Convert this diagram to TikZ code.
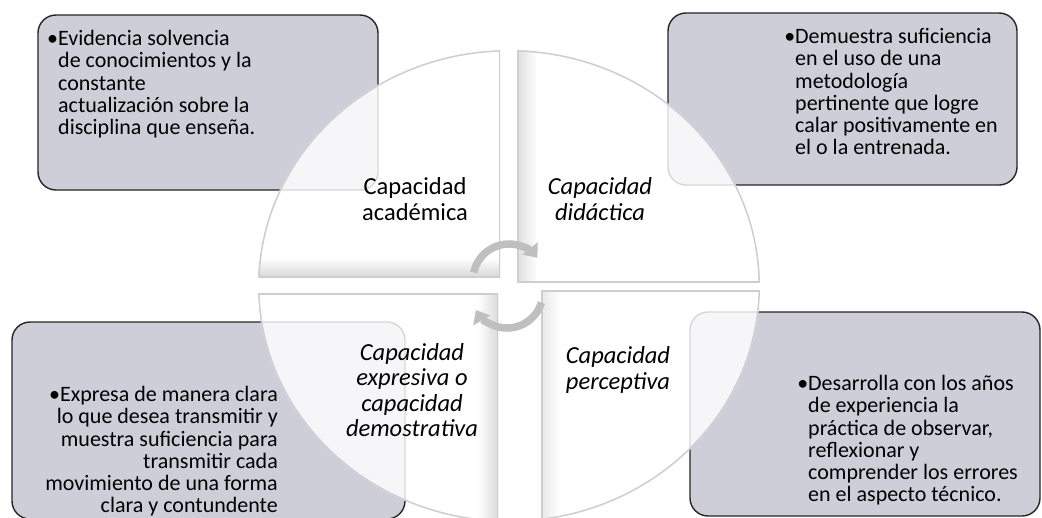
\documentclass[tikz,border=0pt]{standalone}
\usepackage{fontspec}
\setmainfont{Carlito}
\usetikzlibrary{arrows.meta,calc}
\definecolor{boxgray}{RGB}{206,206,217}
\definecolor{pieceline}{RGB}{205,205,210}
\tikzset{
	infobox/.style={draw=black!85, line width=1.4pt, rounded corners=18pt, fill=boxgray},
	infotext/.style={inner sep=0pt, font=\fontsize{22}{22.3}\selectfont},
	piecelabel/.style={inner sep=0pt, align=center, font=\fontsize{24.5}{25.5}\selectfont},
	cyclearrow/.style={line width=7.5pt, draw=black!25, -{Triangle[length=12pt,width=19pt]}}
}

\begin{document}
\begin{tikzpicture}[x=1pt,y=-1pt]
			%%%%% START %%%%%
			\useasboundingbox[fill=white] (0,0) rectangle (1042,517);
			
			% corner boxes
			\draw[infobox] (38,15) rectangle (378,190);
			\draw[infobox] (668,13) rectangle (1017,185);
			\draw[infobox] (12,322) rectangle (405,519);
			\draw[infobox] (690,312) rectangle (1040,516);
			
			\node[infotext, anchor=north west, align=left] (acadtext) at (58,30)
				{\llap{•}Evidencia solvencia\\de conocimientos y la\\constante\\actualización sobre la\\disciplina que enseña.};
			\node[infotext, anchor=north west, align=left] (didtext) at (795,28)
				{\llap{•}Demuestra suficiencia\\en el uso de una\\metodología\\pertinente que logre\\calar positivamente en\\el o la entrenada.};
			\node[infotext, anchor=north east, align=right] (exptext) at (278,386)
				{•Expresa de manera clara\\lo que desea transmitir y\\muestra suficiencia para\\transmitir cada\\movimiento de una forma\\clara y contundente};
			\node[infotext, anchor=north west, align=left] (perctext) at (808,375)
				{\llap{•}Desarrolla con los años\\de experiencia la\\práctica de observar,\\reflexionar y\\comprender los errores\\en el aspecto técnico.};
			
			% quarter pieces of the circle
			\begin{scope}
				\clip (509,286) ellipse [x radius=251, y radius=236];
				\clip (250,40) rectangle (500,277);
				\fill[white, fill opacity=0.82] (250,40) rectangle (500,277);
				\shade[top color=white, bottom color=black!22, fill opacity=0.7] (250,258) rectangle (500,277);
				\draw[line width=3pt, pieceline] (509,286) ellipse [x radius=251, y radius=236];
				\draw[line width=3pt, pieceline] (250,40) rectangle (500,277);
			\end{scope}
			\begin{scope}
				\clip (509,286) ellipse [x radius=251, y radius=236];
				\clip (517,40) rectangle (770,282);
				\fill[white, fill opacity=0.82] (517,40) rectangle (770,282);
				\shade[left color=black!18, right color=white, fill opacity=0.7] (517,40) rectangle (537,282);
				\draw[line width=3pt, pieceline] (509,286) ellipse [x radius=251, y radius=236];
				\draw[line width=3pt, pieceline] (517,40) rectangle (770,282);
			\end{scope}
			\begin{scope}
				\clip (509,286) ellipse [x radius=251, y radius=236];
				\clip (250,293) rectangle (498,530);
				\fill[white, fill opacity=0.82] (250,293) rectangle (498,530);
				\shade[left color=white, right color=black!20, fill opacity=0.7] (478,293) rectangle (498,530);
				\draw[line width=3pt, pieceline] (509,286) ellipse [x radius=251, y radius=236];
				\draw[line width=3pt, pieceline] (250,293) rectangle (498,530);
			\end{scope}
			\begin{scope}
				\clip (509,286) ellipse [x radius=251, y radius=236];
				\clip (541,290) rectangle (770,530);
				\fill[white, fill opacity=0.82] (541,290) rectangle (770,530);
				\shade[left color=black!15, right color=white, fill opacity=0.6] (541,290) rectangle (560,530);
				\draw[line width=3pt, pieceline] (509,286) ellipse [x radius=251, y radius=236];
				\draw[line width=3pt, pieceline] (541,290) rectangle (770,530);
			\end{scope}
			
			% labels of the pieces
			\node[piecelabel] (acad) at (415,199) {Capacidad\\académica};
			\node[piecelabel, font=\fontsize{24.5}{25.5}\selectfont\itshape] (did) at (600,199) {Capacidad\\didáctica};
			\node[piecelabel, font=\fontsize{24.5}{25.5}\selectfont\itshape] (exp) at (412,390) {Capacidad\\expresiva o\\capacidad\\demostrativa};
			\node[piecelabel, font=\fontsize{24.5}{25.5}\selectfont\itshape] (perc) at (618,370) {Capacidad\\perceptiva};
			
			% cycle arrows in the middle
			\coordinate (topturn) at (509,280);
			\coordinate (bottomturn) at (507,292);
			\draw[cyclearrow] ($(topturn)+(192:36)$) arc (192:322:36);
			\draw[cyclearrow] ($(bottomturn)+(17:36)$) arc (17:150:36);
			
			%%%%% END %%%%%
\end{tikzpicture}
\end{document}
